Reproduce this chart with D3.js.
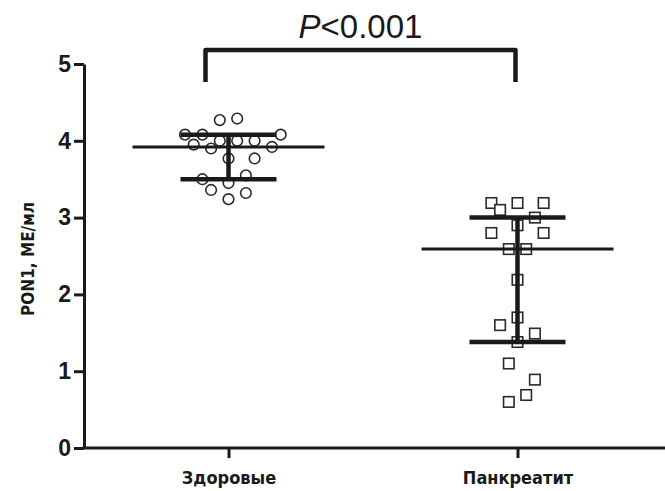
<!DOCTYPE html>
<html>
<head>
<meta charset="utf-8">
<script src="https://cdn.jsdelivr.net/npm/d3@7"></script>
<style>
  body { margin: 0; background: #fff; }
  svg { display: block; }
  .cat-label { font-family: "DejaVu Sans Condensed", "DejaVu Sans", sans-serif; font-weight: bold; }
</style>
</head>
<body>
<svg id="chart"></svg>
<script>
// groups
const categories = ["Здоровые", "Панкреатит"];

// individual values (ME/мл) with beeswarm slot (column offset) for each point
const healthyValues = [4.27, 4.29, 4.08, 4.08, 4.08, 3.95, 3.90, 4.00, 4.00, 4.00, 3.92, 3.77, 3.77, 3.50, 3.55, 3.45, 3.36, 3.32, 3.24];
const healthySlots  = [-1, 1, -5, -3, 6, -4, -2, -1, 1, 3, 5, 0, 3, -3, 2, 0, -2, 2, 0];

const pancValues = [3.19, 3.19, 3.19, 3.10, 3.00, 2.90, 2.80, 2.80, 2.59, 2.59, 2.19, 1.70, 1.60, 1.49, 1.38, 1.10, 0.89, 0.69, 0.60];
const pancSlots  = [-3, 0, 3, -2, 2, 0, -3, 3, -1, 1, 0, 0, -2, 2, 0, -1, 2, 1, -1];

// summary: centre line and lower / upper bars
const centreValues = [3.92, 2.59];
const lowerValues  = [3.50, 1.38];
const upperValues  = [4.08, 3.00];

const yTicks = [0, 1, 2, 3, 4, 5];
const pLabel = "<0.001";

const width = 665;
const height = 491;
const margin = {top: 64, right: 3, bottom: 43, left: 84};

const svg = d3.select("#chart")
    .attr("width", width)
    .attr("height", height)
    .attr("viewBox", [0, 0, width, height]);

const x = d3.scalePoint()
    .domain(categories)
    .range([margin.left, width - margin.right])
    .padding(0.5);

const y = d3.scaleLinear()
    .domain([0, 5])
    .range([height - margin.bottom, margin.top]);

// column offset in px for a swarm slot
const slot = d3.scaleLinear().domain([0, 1]).range([0, 8.7]);

const ink = "#1a1a1a";

// y axis
svg.append("g")
    .attr("transform", `translate(${margin.left},0)`)
    .call(d3.axisLeft(y).tickValues(yTicks).tickFormat(d3.format("d")).tickSize(10).tickSizeOuter(0).tickPadding(3))
    .call(g => g.select(".domain").attr("stroke", ink).attr("stroke-width", 3))
    .call(g => g.selectAll(".tick line").attr("stroke", ink).attr("stroke-width", 3))
    .call(g => g.selectAll(".tick text")
        .attr("fill", ink)
        .style("font-family", "Liberation Sans, Arial, sans-serif")
        .style("font-weight", "bold")
        .style("font-size", "23px"));

// x axis
svg.append("g")
    .attr("transform", `translate(0,${y(0)})`)
    .call(d3.axisBottom(x).tickSize(10).tickSizeOuter(0).tickPadding(13))
    .call(g => g.select(".domain").attr("stroke", ink).attr("stroke-width", 3).attr("d", `M${margin.left - 1.5},0H${width}`))
    .call(g => g.selectAll(".tick line").attr("stroke", ink).attr("stroke-width", 3))
    .call(g => g.selectAll(".tick text")
        .attr("class", "cat-label")
        .attr("fill", ink)
        .style("font-size", "18px"));

// y axis title
svg.append("text")
    .attr("class", "cat-label")
    .attr("transform", `translate(34,${(y(0) + y(5)) / 2 + 3}) rotate(-90)`)
    .attr("text-anchor", "middle")
    .style("font-size", "17px")
    .attr("fill", ink)
    .text("PON1, МЕ/мл");

// points
const healthy = healthyValues.map((v, i) => ({v, s: healthySlots[i]}));
const panc = pancValues.map((v, i) => ({v, s: pancSlots[i]}));

svg.append("g")
    .selectAll("circle")
    .data(healthy)
    .join("circle")
    .attr("cx", d => x(categories[0]) + slot(d.s))
    .attr("cy", d => y(d.v))
    .attr("r", 5.3)
    .attr("fill", "#fff")
    .attr("stroke", "#2a2a2a")
    .attr("stroke-width", 1.6);

const sq = 10.5;
svg.append("g")
    .selectAll("rect")
    .data(panc)
    .join("rect")
    .attr("x", d => x(categories[1]) + slot(d.s) - sq / 2)
    .attr("y", d => y(d.v) - sq / 2)
    .attr("width", sq)
    .attr("height", sq)
    .attr("fill", "#fff")
    .attr("stroke", "#2a2a2a")
    .attr("stroke-width", 1.6);

// summary lines on top of the points
const summary = categories.map((c, i) => ({c, m: centreValues[i], lo: lowerValues[i], hi: upperValues[i]}));
const sg = svg.append("g").attr("stroke", ink).attr("fill", "none");

sg.selectAll(".vbar").data(summary).join("line")
    .attr("x1", d => x(d.c)).attr("x2", d => x(d.c))
    .attr("y1", d => y(d.lo)).attr("y2", d => y(d.hi))
    .attr("stroke-width", 4.5);

sg.selectAll(".mean").data(summary).join("line")
    .attr("x1", d => x(d.c) - 96).attr("x2", d => x(d.c) + 96)
    .attr("y1", d => y(d.m)).attr("y2", d => y(d.m))
    .attr("stroke-width", 3);

["lo", "hi"].forEach(k => {
    sg.selectAll(`.cap-${k}`).data(summary).join("line")
        .attr("x1", d => x(d.c) - 48).attr("x2", d => x(d.c) + 48)
        .attr("y1", d => y(d[k])).attr("y2", d => y(d[k]))
        .attr("stroke-width", 4.5);
});

// significance bracket
const bx0 = x(categories[0]) - 23;
const bx1 = x(categories[1]) - 2;
svg.append("path")
    .attr("d", `M${bx0},82V50H${bx1}V82`)
    .attr("fill", "none")
    .attr("stroke", ink)
    .attr("stroke-width", 4.5)
    .attr("stroke-linejoin", "round");

const pt = svg.append("text")
    .attr("x", (bx0 + bx1) / 2)
    .attr("y", 38)
    .attr("text-anchor", "middle")
    .attr("fill", ink)
    .style("font-family", "Liberation Sans, Arial, sans-serif")
    .style("font-size", "33px");
pt.append("tspan").style("font-style", "italic").text("P");
pt.append("tspan").text(pLabel);
</script>
</body>
</html>
